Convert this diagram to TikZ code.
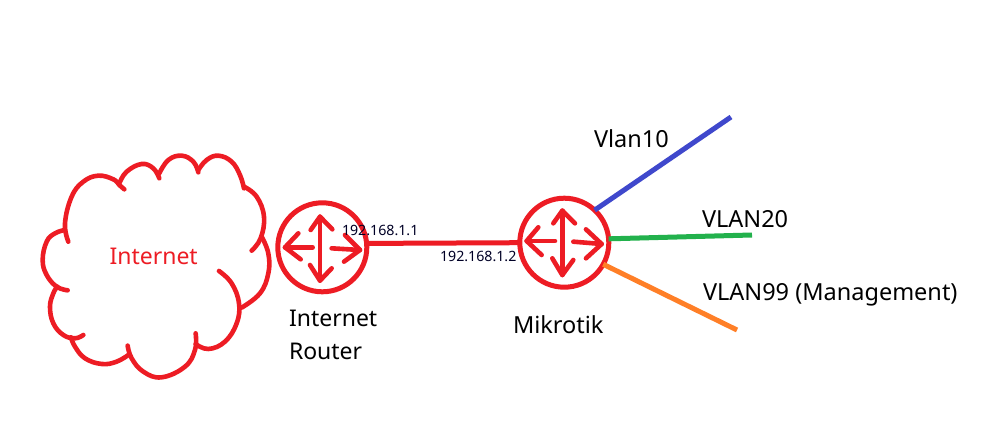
\documentclass[tikz,border=0pt]{standalone}
\usepackage{fontspec}
\setmainfont{Noto Sans}
\definecolor{pred}{RGB}{237,28,36}
\definecolor{pblue}{RGB}{63,72,204}
\definecolor{pgreen}{RGB}{34,177,76}
\definecolor{porange}{RGB}{255,127,39}
\tikzset{
  router/.style={circle,draw=pred,line width=5pt,minimum size=89pt,inner sep=0pt,outer sep=0pt},
  stroke/.style={pred,line width=4.6pt,line cap=round,line join=round},
  cloudline/.style={pred,line width=4.6pt,line cap=round,line join=round},
  cloudarc/.style={smooth,tension=0.7},
  link/.style={line width=5pt},
  lbl/.style={inner sep=0pt,outer sep=0pt,anchor=base west,text=black,font=\fontsize{23.5}{28}\selectfont},
  lblword/.style={lbl,font=\fontsize{23}{28}\selectfont},
  ip/.style={inner sep=0pt,outer sep=0pt,anchor=base west,text=black!85!blue,font=\fontsize{14.2}{17}\selectfont}
}
\begin{document}
\begin{tikzpicture}[x=1pt,y=-1pt]
\useasboundingbox (0,0) rectangle (1004,441);
\fill[white] (0,0) rectangle (1004,441);
% cloud
\begin{scope}[shift={(30,140)},x=0.3333pt,y=-0.3333pt,cloudline]
\draw plot[cloudarc] coordinates {(115,305) (105,250) (125,170) (160,125) (205,107) (250,118) (268,135) (283,148)};
\draw plot[cloudarc] coordinates {(268,130) (290,95) (335,72) (370,85) (388,115)};
\draw plot[cloudarc] coordinates {(388,100) (415,60) (455,47) (490,65) (505,97)};
\draw plot[cloudarc] coordinates {(505,90) (530,60) (565,47) (605,65) (630,105) (642,145)};
\draw plot[cloudarc] coordinates {(642,140) (680,170) (702,230) (692,295) (665,332)};
\draw plot[cloudarc] coordinates {(695,290) (715,340) (715,400) (690,460) (635,503)};
\draw plot[cloudarc] coordinates {(567,393) (605,430) (627,490) (620,550) (585,605) (535,627) (497,612)};
\draw plot[cloudarc] coordinates {(497,580) (495,630) (465,680) (395,712) (340,695) (305,655) (293,617)};
\draw plot[cloudarc] coordinates {(298,643) (260,665) (215,672) (165,655) (135,620) (123,592)};
\draw plot[cloudarc] coordinates {(160,585) (135,595) (100,585) (70,550) (60,500) (70,460) (82,440)};
\draw plot[cloudarc] coordinates {(113,451) (80,440) (50,405) (38,360) (50,305) (75,280) (105,270)};
\end{scope}
\node[lblword,text=pred] (inet) at (109.5,264) {Internet};
% routers
\node[router] (r1) at (322.3,247.3) {};
\node[router] (r2) at (564.3,242.7) {};
% arrows
\begin{scope}[shift={(270,190)},x=0.3333pt,y=-0.3333pt,stroke]
\draw (150,80) -- (150,272);
\draw (122,120) -- (150,80) -- (187,118);
\draw (120,225) -- (150,272) -- (185,235);
\draw (128,172) -- (45,172);
\draw (85,130) -- (45,172) -- (92,208);
\draw (185,175) -- (270,180);
\draw (225,135) -- (270,180) -- (222,215);
\draw (877,62) -- (877,255);
\draw (850,100) -- (877,62) -- (915,100);
\draw (847,205) -- (877,255) -- (910,210);
\draw (855,153) -- (770,153);
\draw (805,112) -- (770,153) -- (815,195);
\draw (910,155) -- (995,162);
\draw (948,118) -- (995,162) -- (948,205);
\end{scope}
% links
\coordinate (v10) at (731,117);
\coordinate (v20) at (752,235);
\coordinate (v99) at (737,330);
\draw[link,pred] (r1.5) -- (r2.180);
\draw[link,pblue] (r2.47) -- (v10);
\draw[link,pgreen] (r2.5) -- (v20);
\draw[link,porange] (r2.-29) -- (v99);
% labels
\node[lbl] (n10) at (594,147) {Vlan10};
\node[lbl] (n20) at (702,227) {VLAN20};
\node[lbl] (n99) at (703,300) {VLAN99 (Management)};
\node[lbl] (nm) at (513,333) {Mikrotik};
\node[lblword] (nr1) at (289,326) {Internet};
\node[lblword] (nr2) at (289,359) {Router};
\node[ip] (ip1) at (342,235) {192.168.1.1};
\node[ip] (ip2) at (440,261) {192.168.1.2};
\end{tikzpicture}
\end{document}
